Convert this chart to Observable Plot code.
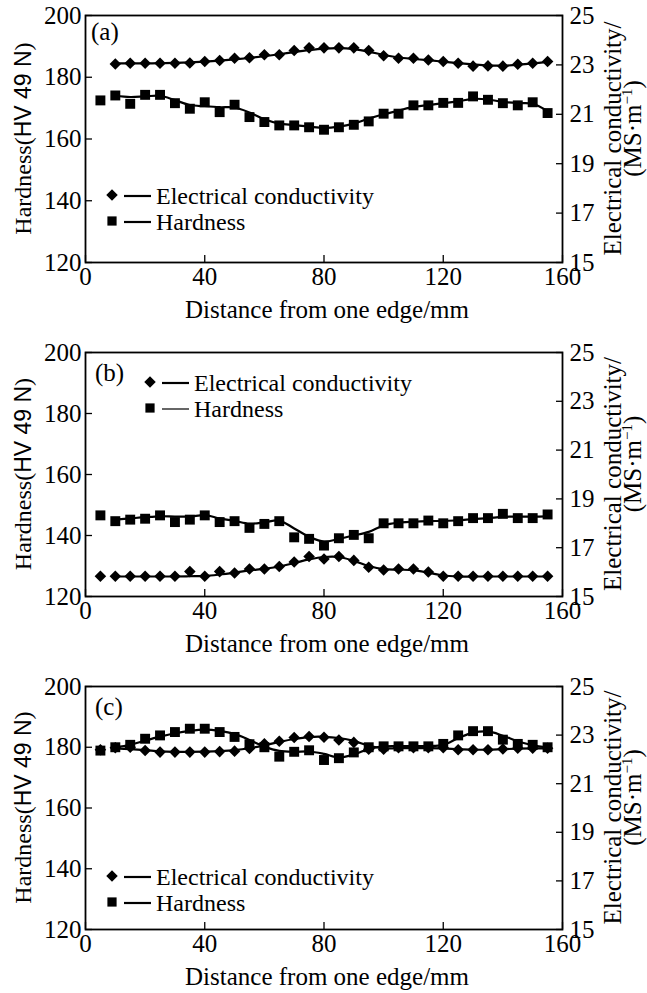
<!DOCTYPE html>
<html>
<head>
<meta charset="utf-8">
<script src="https://cdn.jsdelivr.net/npm/d3@7"></script>
<script src="https://cdn.jsdelivr.net/npm/@observablehq/plot@0.6"></script>
<style>
  body { margin: 0; background: #fff; }
  #chart { width: 647px; }
  #chart svg { display: block; }
</style>
</head>
<body>
<div id="chart"></div>
<script>
// ---------- data ----------
const panelLabels = ["(a)", "(b)", "(c)"];
const xTicks = [0, 40, 80, 120, 160];
const hvTicks = [120, 140, 160, 180, 200];
const condTicks = [15, 17, 19, 21, 23, 25];
const xTitle = "Distance from one edge/mm";
const legendNames = ["Electrical conductivity", "Hardness"];

// measured points, every 5 mm
const distance = [5,10,15,20,25,30,35,40,45,50,55,60,65,70,75,80,85,90,95,100,105,110,115,120,125,130,135,140,145,150,155];

const hardA = [172.5,174.1,171.4,174.3,174.3,171.6,169.8,171.9,168.7,171.1,167.1,165.5,164.4,164.4,163.8,163.0,163.8,164.6,165.7,168.2,168.2,170.9,170.9,171.7,171.7,173.8,172.7,171.6,170.9,171.9,168.4];
const condA = [null,23.04,23.07,23.07,23.07,23.07,23.08,23.14,23.18,23.27,23.29,23.41,23.41,23.58,23.69,23.69,23.69,23.69,23.58,23.37,23.27,23.27,23.2,23.14,23.07,22.95,22.96,22.95,23.03,23.07,23.14];

const hardB = [146.6,144.7,145.2,145.5,146.6,144.4,145.2,146.6,144.4,144.7,142.5,143.8,144.7,139.4,138.9,136.7,139.1,140.2,139.1,144.0,144.0,144.0,144.9,144.0,144.7,145.7,145.7,147.1,145.7,145.7,146.9];
const condB = [15.83,15.83,15.83,15.83,15.83,15.83,16.02,15.83,16.02,15.96,16.13,16.13,16.23,16.41,16.64,16.54,16.64,16.48,16.2,16.09,16.13,16.13,16.0,15.83,15.83,15.83,15.83,15.83,15.83,15.83,15.83];

const hardC = [178.9,180.0,180.8,182.8,183.9,185.0,186.1,186.1,185.0,183.4,181.0,180.0,176.9,178.5,179.0,175.8,176.4,178.3,180.0,180.3,180.3,180.3,180.3,181.1,183.9,185.3,185.3,182.5,181.1,180.8,180.0];
const condC = [22.4,22.48,22.5,22.37,22.3,22.3,22.3,22.3,22.32,22.34,22.45,22.64,22.75,22.9,22.94,22.91,22.8,22.7,22.42,22.42,22.48,22.48,22.48,22.48,22.4,22.4,22.4,22.43,22.46,22.46,22.46];

// fitted (smooth) curves
const fitDistance = [10,15,20,25,30,35,40,45,50,55,60,65,70,75,80,85,90,95,100,105,110,115,120,125,130,135,140,145,150,155];

const fitHardA = [174.0,173.6,173.8,174.0,172.6,171.0,170.6,170.3,170.2,168.6,166.4,165.0,164.5,164.0,163.6,164.0,165.0,166.6,168.0,169.2,170.4,171.0,171.6,172.2,173.0,172.8,172.0,171.6,171.4,169.0];
const fitCondA = [23.06,23.06,23.06,23.07,23.08,23.1,23.13,23.17,23.22,23.28,23.35,23.43,23.52,23.6,23.66,23.68,23.64,23.54,23.4,23.3,23.24,23.19,23.13,23.07,23.02,22.98,22.97,23.0,23.06,23.12];

const fitHardB = [145.2,145.6,146.0,146.3,146.2,146.2,146.7,145.6,144.8,143.9,144.3,144.9,142.3,139.6,138.0,138.9,140.0,141.2,143.3,144.2,144.5,144.7,144.8,145.0,145.4,145.7,146.1,146.2,146.2,146.3];
const fitCondB = [15.82,15.82,15.82,15.82,15.82,15.83,15.84,15.9,15.98,16.07,16.14,16.23,16.37,16.52,16.62,16.62,16.46,16.25,16.12,16.1,16.08,15.98,15.86,15.82,15.82,15.82,15.82,15.82,15.82,15.82];

const fitHardC = [180.0,180.8,182.2,183.5,184.6,185.4,185.8,185.4,184.4,182.4,180.2,178.8,178.5,178.6,177.8,176.6,177.6,179.4,180.3,180.4,180.4,180.4,180.8,183.0,184.8,185.2,183.8,182.0,180.6,180.0];
const fitCondC = [22.45,22.42,22.38,22.33,22.31,22.31,22.32,22.34,22.38,22.46,22.58,22.72,22.84,22.92,22.93,22.88,22.76,22.56,22.46,22.46,22.46,22.46,22.45,22.42,22.4,22.4,22.42,22.44,22.45,22.45];

// ---------- drawing ----------
const SERIF = "'Liberation Serif', 'Times New Roman', serif";
const SANS = "'Liberation Sans', Arial, sans-serif";
// right axis (conductivity 15..25) shares the frame with hardness (120..200)
const toHV = c => 120 + (c - 15) * 8;
const fromHV = v => 15 + (v - 120) / 8;

const W = 647, ML = 85, MR = 85;

const layouts = [
  {height: 331, mt: 15, mb: 69, legend: {x: 112, y: 195, thin: false}, lab: {x: 91, y: 40}},
  {height: 331, mt: 21, mb: 66, legend: {x: 150, y: 51, thin: true},  lab: {x: 95, y: 50}},
  {height: 331, mt: 24, mb: 64, legend: {x: 112, y: 214, thin: false}, lab: {x: 95, y: 53}}
];
const series = [
  {hard: hardA, cond: condA, fh: fitHardA, fc: fitCondA},
  {hard: hardB, cond: condB, fh: fitHardB, fc: fitCondB},
  {hard: hardC, cond: condC, fh: fitHardC, fc: fitCondC}
];

const root = document.getElementById("chart");

series.forEach((s, k) => {
  const L = layouts[k];
  const pts = distance.map((d, i) => ({d, h: s.hard[i], c: s.cond[i]}));
  const fit = fitDistance.map((d, i) => ({d, h: s.fh[i], c: s.fc[i]}));

  const plot = Plot.plot({
    width: W, height: L.height,
    marginTop: L.mt, marginBottom: L.mb, marginLeft: ML, marginRight: MR,
    style: {fontFamily: SERIF, fontSize: "25px", color: "#000", background: "#fff", overflow: "visible"},
    x: {domain: [0, 160]},
    y: {domain: [120, 200]},
    marks: [
      Plot.axisX({ticks: xTicks, tickSize: -7, tickPadding: 12, label: null, strokeWidth: 1.3}),
      Plot.axisY({anchor: "left", ticks: hvTicks, tickSize: -7, tickPadding: 11, label: null, strokeWidth: 1.3}),
      Plot.axisY({anchor: "right", ticks: condTicks.map(toHV), tickFormat: v => String(Math.round(fromHV(v))),
                  tickSize: -7, tickPadding: 14, label: null, strokeWidth: 1.3}),
      Plot.frame({stroke: "#000", strokeWidth: 1.8}),
      Plot.line(fit, {x: "d", y: "h", curve: "catmull-rom", stroke: "#000", strokeWidth: 2.2}),
      Plot.line(fit, {x: "d", y: p => toHV(p.c), curve: "catmull-rom", stroke: "#000", strokeWidth: 2.2}),
      Plot.dot(pts.filter(p => p.h != null), {x: "d", y: "h", symbol: "square", r: 5.6, fill: "#000", stroke: null}),
      Plot.dot(pts.filter(p => p.c != null), {x: "d", y: p => toHV(p.c), symbol: "diamond2", r: 5.2, fill: "#000", stroke: null})
    ]
  });
  root.appendChild(plot);

  const svg = d3.select(plot);
  const top = L.mt, bottom = L.height - L.mb, cy = (top + bottom) / 2;
  const txt = () => svg.append("text").attr("font-family", SERIF).attr("fill", "#000").attr("text-anchor", "start");

  // panel label
  txt().attr("x", L.lab.x).attr("y", L.lab.y).attr("font-size", 25).text(panelLabels[k]);

  // x title
  txt().attr("x", 327).attr("y", bottom + 56).attr("text-anchor", "middle").attr("font-size", 25).text(xTitle);

  // left title
  const lt = txt().attr("transform", `translate(31,${cy}) rotate(-90)`).attr("text-anchor", "middle").attr("font-size", 24);
  lt.append("tspan").text("Hardness(");
  lt.append("tspan").attr("font-family", SANS).attr("font-size", 23).text("HV 49 N");
  lt.append("tspan").text(")");

  // right title (two lines)
  txt().attr("transform", `translate(621,${cy}) rotate(-90)`).attr("text-anchor", "middle").attr("font-size", 25)
    .text("Electrical conductivity/");
  const rt = txt().attr("transform", `translate(641,${cy - 10}) rotate(-90)`).attr("text-anchor", "middle").attr("font-size", 25);
  rt.append("tspan").text("(MS\u00B7m");
  rt.append("tspan").attr("dy", -9).attr("font-size", 15).text("\u22121");
  rt.append("tspan").attr("dy", 9).text(")");

  // legend
  const lg = L.legend;
  const rows = [
    {sym: d3.symbolDiamond2, size: Math.PI * 27, name: legendNames[0], y: lg.y, w: 2.2},
    {sym: d3.symbolSquare, size: Math.PI * 27, name: legendNames[1], y: lg.y + 26, w: lg.thin ? 1.2 : 2.2}
  ];
  rows.forEach(r => {
    svg.append("path").attr("d", d3.symbol(r.sym, r.size)()).attr("transform", `translate(${lg.x},${r.y})`).attr("fill", "#000");
    svg.append("line").attr("x1", lg.x + 12).attr("x2", lg.x + 39).attr("y1", r.y + 1).attr("y2", r.y + 1)
      .attr("stroke", "#000").attr("stroke-width", r.w);
    txt().attr("x", lg.x + 44).attr("y", r.y + 9).attr("font-size", 24).text(r.name);
  });
});
</script>
</body>
</html>
